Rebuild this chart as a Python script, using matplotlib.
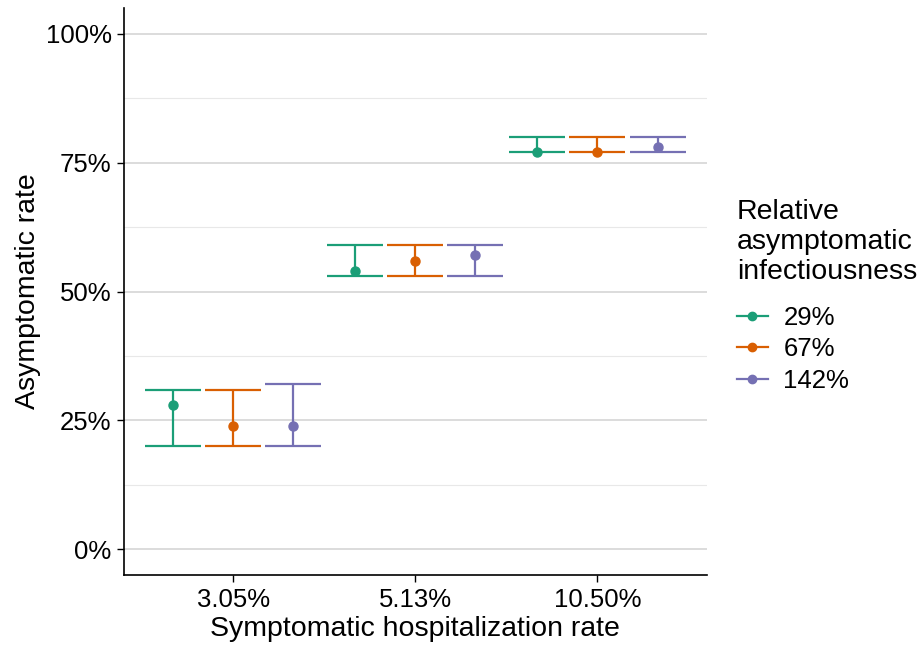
import matplotlib.pyplot as plt
import numpy as np
from matplotlib.lines import Line2D

plt.rcParams['font.family'] = ['Liberation Sans', 'DejaVu Sans']

# Data (percent)
hosp_labels = ['3.05%', '5.13%', '10.50%']
infect_labels = ['29%', '67%', '142%']
colors = ['#1B9E77', '#D95F02', '#7570B3']

# rows = infectiousness group, columns = hospitalization rate
est = [[28, 54, 77],
       [24, 56, 77],
       [24, 57, 78]]
low = [[20, 53, 77],
       [20, 53, 77],
       [20, 53, 77]]
high = [[31, 59, 80],
        [31, 59, 80],
        [32, 59, 80]]

fig = plt.figure(figsize=(9.19, 6.5), dpi=100)
ax = fig.add_axes([0.135, 0.115, 0.634, 0.873])

x = np.arange(1, len(hosp_labels) + 1)
dodge = 0.33
for i, (lab, c) in enumerate(zip(infect_labels, colors)):
    xi = x + (i - 1) * dodge
    e = np.array(est[i])
    lo = np.array(low[i])
    hi = np.array(high[i])
    ax.errorbar(xi, e, yerr=[e - lo, hi - e], fmt='none', ecolor=c,
                elinewidth=1.6, capsize=20, capthick=1.6, zorder=3)
    ax.plot(xi, e, 'o', color=c, markersize=6.5, zorder=4)

# grid
for v in [0, 25, 50, 75, 100]:
    ax.axhline(v, color='#d9d9d9', lw=1.3, zorder=1)
for v in [12.5, 37.5, 62.5, 87.5]:
    ax.axhline(v, color='#e8e8e8', lw=0.8, zorder=1)

ax.set_xlim(0.4, 3.6)
ax.set_ylim(-5, 105)
ax.set_xticks(x)
ax.set_xticklabels(hosp_labels)
ax.set_yticks([0, 25, 50, 75, 100])
ax.set_yticklabels(['0%', '25%', '50%', '75%', '100%'])
ax.tick_params(labelsize=18.5, length=5, width=1, colors='black', pad=4)
for s in ['top', 'right']:
    ax.spines[s].set_visible(False)
for s in ['left', 'bottom']:
    ax.spines[s].set_linewidth(1.2)

ax.set_xlabel('Symptomatic hospitalization rate', fontsize=20.5, labelpad=3)
ax.set_ylabel('Asymptomatic rate', fontsize=20.5, labelpad=3)

handles = [Line2D([0], [0], color=c, marker='o', markersize=6, lw=1.6)
           for c in colors]
leg = fig.legend(handles, infect_labels, title='Relative\nasymptomatic\ninfectiousness',
                 loc='upper left', bbox_to_anchor=(0.788, 0.714), frameon=False,
                 fontsize=18.5, title_fontsize=20.5, handlelength=1.2,
                 handletextpad=0.6, labelspacing=0.3, borderpad=0,
                 alignment='left')
leg._legend_box.sep = 15

plt.savefig('out.png', dpi=100)
